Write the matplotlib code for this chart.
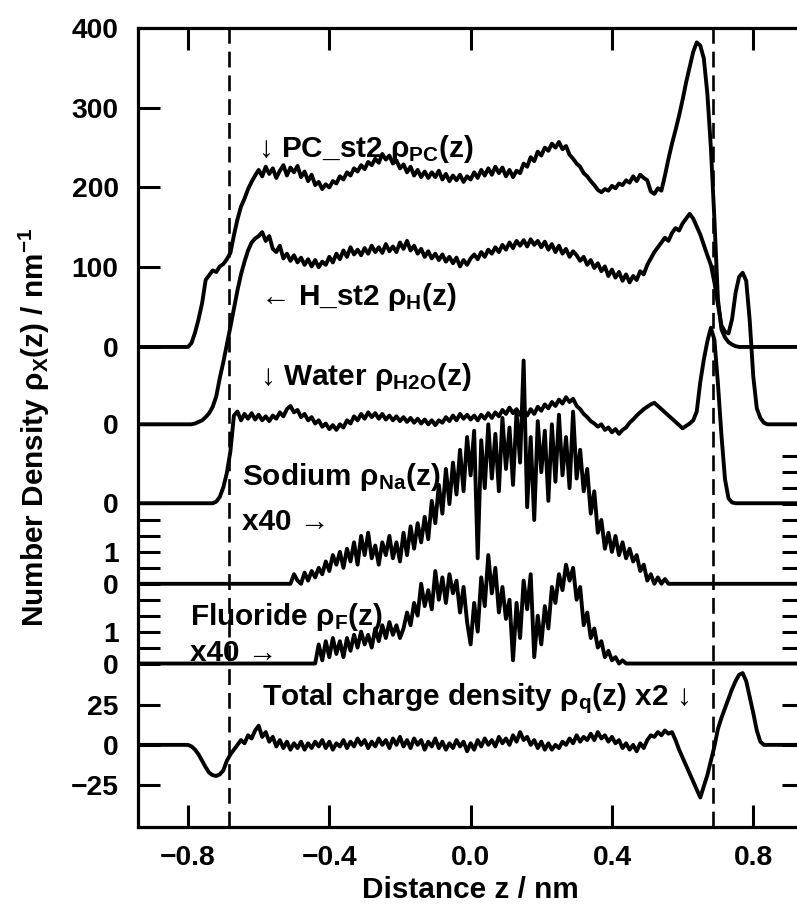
import numpy as np
import matplotlib.pyplot as plt
from matplotlib import font_manager

# the original lettering is a tall, narrow sans; use Liberation Sans Narrow if present
installed = {f.name for f in font_manager.fontManager.ttflist}
if 'Liberation Sans Narrow' in installed:
    main_font = 'Liberation Sans Narrow'
    fs_text, fs_tick = 26.0, 24.6
else:
    main_font = 'Liberation Sans'
    fs_text, fs_tick = 21.4, 20.3

plt.rcParams['font.family'] = [main_font, 'DejaVu Sans']
plt.rcParams['font.weight'] = 'bold'
plt.rcParams['mathtext.default'] = 'regular'

# all profiles are sampled every 0.01 nm, starting at the given z
dz = 0.01

# PC_st2 number density (nm^-1), from z = -0.80
pc_start = -0.80
pc_vals = [0, 5, 18, 35, 55, 84, 90, 96, 94, 101,
           104, 110, 118, 140, 160, 176, 186, 198, 207, 215,
           222, 214, 226, 217, 224, 212, 221, 228, 215, 225,
           219, 227, 213, 220, 208, 216, 203, 207, 198, 204,
           200, 208, 205, 214, 210, 219, 215, 224, 220, 228,
           223, 232, 228, 236, 231, 242, 235, 240, 230, 234,
           224, 229, 219, 226, 215, 222, 213, 220, 212, 219,
           213, 221, 210, 217, 208, 215, 209, 216, 207, 214,
           210, 219, 212, 222, 215, 224, 216, 226, 218, 225,
           214, 222, 213, 221, 218, 230, 226, 238, 233, 245,
           240, 250, 246, 255, 250, 257, 248, 252, 241, 236,
           230, 226, 218, 214, 208, 203, 197, 194, 198, 196,
           202, 199, 205, 203, 209, 206, 214, 208, 216, 212,
           209, 195, 192, 199, 196, 215, 236, 255, 272, 290,
           310, 332, 351, 370, 382, 378, 362, 318, 250, 160,
           60, 22, 12, 6, 3, 1, 0]

# H_st2 number density, from z = -0.80
h_start = -0.80
h_vals = [0, 0, 1, 3, 5, 9, 14, 22, 35, 58,
          78, 100, 122, 145, 168, 188, 204, 218, 228, 233,
          236, 241, 230, 236, 220, 216, 224, 208, 214, 205,
          212, 203, 209, 200, 207, 198, 206, 197, 204, 200,
          210, 203, 214, 207, 218, 210, 222, 213, 219, 212,
          221, 214, 224, 216, 222, 215, 226, 217, 223, 216,
          228, 220, 230, 218, 224, 214, 220, 210, 217, 208,
          214, 206, 213, 204, 210, 202, 209, 198, 206, 200,
          208, 213, 207, 216, 210, 219, 214, 222, 216, 225,
          219, 228, 221, 230, 224, 231, 223, 232, 225, 230,
          222, 229, 219, 226, 216, 224, 214, 220, 210, 217,
          212, 205, 210, 200, 206, 196, 202, 192, 198, 186,
          194, 184, 191, 180, 188, 178, 186, 181, 192, 188,
          200, 208, 216, 222, 228, 234, 230, 240, 246, 243,
          252, 258, 264, 258, 248, 238, 225, 212, 200, 178,
          150, 124, 116, 114, 132, 165, 185, 190, 180, 130,
          60, 20, 8, 2, 0]

# water number density, from z = -0.73
w_start = -0.73
w_vals = [0, 2, 8, 20, 38, 65, 110, 115, 104, 112,
          106, 113, 105, 111, 104, 109, 103, 110, 106, 114,
          109, 118, 122, 114, 117, 108, 112, 104, 108, 100,
          104, 96, 100, 93, 98, 92, 99, 95, 104, 100,
          109, 104, 112, 106, 114, 108, 113, 106, 112, 105,
          110, 104, 109, 103, 108, 102, 107, 101, 106, 100,
          105, 99, 104, 98, 104, 101, 108, 103, 110, 104,
          112, 106, 111, 105, 110, 104, 111, 106, 113, 107,
          114, 109, 117, 112, 120, 113, 118, 111, 116, 110,
          118, 112, 121, 116, 124, 119, 127, 122, 130, 125,
          133, 127, 131, 122, 118, 112, 108, 103, 100, 96,
          99, 92, 95, 89, 93, 87, 92, 95, 101, 105,
          110, 114, 118, 121, 124, 126, 122, 118, 114, 110,
          106, 102, 98, 94, 97, 100, 104, 115, 152, 180,
          203, 220, 205, 150, 85, 30, 6, 1, 0]

# sodium number density (plotted x40), from z = -0.52
na_start = -0.52
na_vals = [0, 0, 0.3, 0.1, 0, 0.35, 0.1, 0.4, 0.2, 0.5,
           0.3, 0.7, 0.4, 0.9, 0.6, 1.0, 0.5, 1.1, 0.7, 1.3,
           0.6, 1.5, 0.9, 1.6, 0.8, 1.2, 0.6, 1.3, 0.9, 1.5,
           0.8, 1.3, 0.7, 1.6, 0.9, 1.8, 1.1, 1.9, 1.3, 2.1,
           1.4, 2.6, 1.9, 3.1, 2.2, 3.6, 2.5, 3.8, 2.8, 4.2,
           2.9, 4.6, 3.4, 4.8, 0.8, 4.5, 3.0, 5.0, 3.3, 4.7,
           2.9, 5.2, 3.6, 4.9, 3.1, 5.4, 3.8, 7.0, 2.4, 4.6,
           2.0, 5.1, 3.5, 4.8, 2.6, 5.0, 3.2, 5.3, 3.4, 4.6,
           3.0, 5.4, 3.3, 4.2, 2.9, 3.6, 2.2, 2.9, 1.6, 2.0,
           1.1, 1.6, 1.0, 1.5, 0.9, 1.3, 0.8, 1.1, 0.7, 0.9,
           0.4, 0.6, 0.1, 0.3, 0.0, 0.2, 0.0, 0.15, 0, 0]

# fluoride number density (plotted x40), from z = -0.45
f_start = -0.45
f_vals = [0, 0, 0.6, 0.1, 0.7, 0.2, 0.8, 0.3, 0.7, 0.2,
          0.8, 0.4, 0.9, 0.5, 1.0, 0.6, 0.9, 0.5, 1.1, 0.7,
          1.2, 0.8, 1.3, 0.9, 1.2, 0.8, 1.1, 1.6, 1.2, 1.9,
          1.5, 2.5, 1.8, 2.3, 1.7, 2.9, 2.0, 2.7, 1.9, 2.8,
          2.2, 2.6, 1.6, 2.4, 1.3, 0.6, 1.9, 1.0, 2.7, 1.8,
          3.4, 2.2, 3.0, 1.6, 2.4, 1.4, 2.0, 0.1, 1.9, 0.8,
          2.6, 1.7, 2.8, 0.2, 1.5, 0.6, 1.8, 1.1, 2.4, 1.9,
          2.8, 2.3, 3.1, 2.6, 3.0, 2.0, 2.4, 1.2, 1.6, 0.8,
          1.1, 0.5, 0.7, 0.2, 0.4, 0.1, 0.2, 0.0, 0.1, 0]

# total charge density (plotted x2), from z = -0.80
q_start = -0.80
q_vals = [0, -1, -3, -6, -10, -14, -17.5, -19, -19.5, -18.5,
          -16, -10, -6, -3, 0, 3, 1, 6, 4, 9,
          12, 5, 8, 2, 5, -1, 3, -2, 2, -3,
          1, -2, 2, -3, 1, -2, 2, -1, 3, -2,
          2, -3, 1, -1, 3, -2, 2, -1, 4, 0,
          3, -2, 2, -1, 4, 0, 3, -2, 4, 0,
          5, -1, 3, -2, 4, 0, 3, -3, 2, -1,
          4, -2, 2, -3, 1, -2, 3, -1, 2, -4,
          1, -3, 3, -1, 4, 0, 3, -1, 5, 1,
          4, 0, 6, 2, 8, 3, 5, 0, 3, -2,
          2, -3, 1, -3, 0, -2, 2, 0, 4, 1,
          6, 2, 5, 3, 7, 3, 8, 4, 6, 2,
          5, 1, 3, -2, 1, -3, 0, -4, 1, -2,
          3, 6, 5, 8, 6, 9, 7, 8, 3, -3,
          -8, -13, -18, -23, -28, -33, -26, -19, -10, -1,
          10, 17, 23, 29, 35, 40, 44, 45, 40, 30,
          20, 9, 2, 0]

# vertical offsets of each trace and scale factors
off_pc, off_h, off_w, off_na, off_f, off_q = 0, -97, -196, -297, -397, -499
ion_scale = 40
q_scale = 2
interface_z = 0.685


def profile(z0, vals):
    z = np.concatenate([[-1.0], z0 + dz * np.arange(len(vals)), [1.0]])
    v = np.concatenate([[0.0], np.array(vals, dtype=float), [0.0]])
    return z, v


fig = plt.figure(figsize=(7.97, 9.13), dpi=100)
ax = fig.add_axes([138 / 797, 1 - 827 / 913, 666 / 797, 799 / 913])

lw = 2.8
for z0, vals, off, sc in [(pc_start, pc_vals, off_pc, 1),
                          (h_start, h_vals, off_h, 1),
                          (w_start, w_vals, off_w, 1),
                          (na_start, na_vals, off_na, ion_scale),
                          (f_start, f_vals, off_f, ion_scale),
                          (q_start, q_vals, off_q, q_scale)]:
    z, v = profile(z0, vals)
    ax.plot(z, off + sc * v, color='black', lw=lw)

for zi in (-interface_z, interface_z):
    ax.axvline(zi, color='black', lw=1.9, ls=(0, (6, 3)))

ax.set_xlim(-0.9415, 0.9436)
ax.set_ylim(-602, 400)

# x axis
ax.set_xticks([-0.8, -0.4, 0.0, 0.4, 0.8])
ax.set_xticklabels(['\u22120.8', '\u22120.4', '0.0', '0.4', '0.8'])
ax.tick_params(axis='x', which='both', direction='in', length=16, width=2.2,
               top=True, bottom=True, labelsize=fs_tick, pad=13)

# left y ticks: one little scale per trace
half = [0, 0.5, 1, 1.5, 2]
left_pos = ([off_pc + v for v in (0, 100, 200, 300, 400)] + [off_h, off_w]
            + [off_na + ion_scale * v for v in half]
            + [off_f + ion_scale * v for v in half]
            + [off_q + q_scale * v for v in (-25, 0, 25)])
left_lab = (['0', '100', '200', '300', '400', '0', '0']
            + ['0', '', '1', '', ''] + ['0', '', '1', '', '']
            + ['\u221225', '0', '25'])
ax.set_yticks(left_pos)
ax.set_yticklabels(left_lab)
ax.tick_params(axis='y', direction='in', length=16, width=2.2, left=True,
               right=False, labelsize=fs_tick, pad=14)

# right side ticks (axis frame itself is cut off by the figure edge)
ax2 = ax.twinx()
ax2.set_ylim(ax.get_ylim())
right_pos = ([off_na + ion_scale * v for v in (0.5, 1, 1.5, 2, 2.5, 3, 3.5, 4)]
             + [off_f + ion_scale * v for v in (0.5, 1, 1.5, 2)]
             + [off_q + q_scale * v for v in (-25, 0, 25)])
ax2.set_yticks(right_pos)
ax2.set_yticklabels([])
ax2.tick_params(axis='y', direction='in', length=16, width=2.2)
for sp in ax2.spines.values():
    sp.set_visible(False)

for sp in ax.spines.values():
    sp.set_linewidth(2.3)

ax.text(-0.602, 238, '\u2193 PC_st2 \u03c1$_{PC}$(z)', fontsize=fs_text, va='baseline')
ax.text(-0.596, 53, '\u2190 H_st2 \u03c1$_{H}$(z)', fontsize=fs_text, va='baseline')
ax.text(-0.596, -48, '\u2193 Water \u03c1$_{H2O}$(z)', fontsize=fs_text, va='baseline')
ax.text(-0.647, -173, 'Sodium \u03c1$_{Na}$(z)', fontsize=fs_text, va='baseline')
ax.text(-0.647, -230, 'x40 \u2192', fontsize=fs_text, va='baseline')
ax.text(-0.794, -349, 'Fluoride \u03c1$_{F}$(z)', fontsize=fs_text, va='baseline')
ax.text(-0.794, -394, 'x40 \u2192', fontsize=fs_text, va='baseline')
ax.text(-0.590, -449, 'Total charge density \u03c1$_{q}$(z) x2 \u2193',
        fontsize=fs_text, va='baseline')

fig.text(470 / 797, 1 - 890 / 913, 'Distance z / nm', fontsize=fs_text,
         ha='center', va='center')
fig.text(34 / 797, 1 - 427 / 913, 'Number Density \u03c1$_{X}$(z) / nm$^{-1}$',
         fontsize=fs_text, ha='center', va='center', rotation=90)

fig.savefig('out.png', dpi=100)
